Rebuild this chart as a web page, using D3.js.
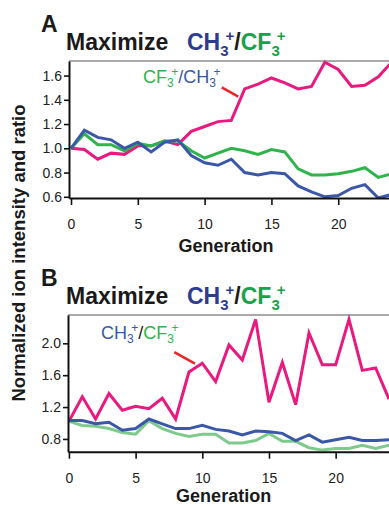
<!DOCTYPE html>
<html>
<head>
<meta charset="utf-8">
<script src="https://cdn.jsdelivr.net/npm/d3@7"></script>
<style>
body { margin: 0; background: #fff; }
svg { display: block; }
</style>
</head>
<body>
<script>
var w = 389;
var h = 505;

var generations = d3.range(0, 25);

// panel A
var ratioA = [1.00, 0.99, 0.91, 0.96, 0.95, 1.02, 1.02, 1.06, 1.03, 1.14, 1.18, 1.22, 1.23, 1.49, 1.53, 1.58, 1.54, 1.49, 1.51, 1.71, 1.65, 1.51, 1.52, 1.59, 1.71];
var cf3A   = [1.00, 1.12, 1.03, 1.03, 0.98, 1.04, 1.02, 1.06, 1.06, 0.98, 0.92, 0.96, 1.00, 0.98, 0.95, 0.99, 0.97, 0.83, 0.78, 0.78, 0.79, 0.81, 0.84, 0.76, 0.79];
var ch3A   = [1.00, 1.15, 1.09, 1.07, 1.00, 1.05, 0.97, 1.05, 1.07, 0.94, 0.88, 0.86, 0.91, 0.80, 0.78, 0.80, 0.79, 0.69, 0.64, 0.60, 0.61, 0.67, 0.70, 0.59, 0.62];

// panel B
var ratioB = [1.02, 1.33, 1.05, 1.37, 1.16, 1.21, 1.18, 1.31, 1.05, 1.64, 1.75, 1.52, 1.98, 1.79, 2.30, 1.26, 1.76, 1.23, 2.13, 1.73, 1.73, 2.30, 1.66, 1.69, 1.30];
var ch3B   = [1.03, 1.03, 0.99, 1.01, 0.91, 0.93, 1.05, 0.99, 0.93, 0.93, 0.97, 0.92, 0.90, 0.85, 0.90, 0.89, 0.87, 0.78, 0.85, 0.76, 0.79, 0.82, 0.78, 0.78, 0.79];
var cf3B   = [1.02, 0.97, 0.96, 0.93, 0.88, 0.86, 1.03, 0.93, 0.87, 0.83, 0.86, 0.86, 0.75, 0.75, 0.78, 0.87, 0.77, 0.77, 0.69, 0.66, 0.68, 0.68, 0.72, 0.68, 0.72];

var xTicks = [0, 5, 10, 15, 20];
var yTicksA = [0.6, 0.8, 1.0, 1.2, 1.4, 1.6];
var yTicksB = [0.8, 1.2, 1.6, 2.0];

var pink = "#e8197f";
var blue = "#3b57a8";
var green = "#2fb34c";
var lightGreen = "#7dca8c";
var titleBlue = "#2e3b8f";
var titleGreen = "#17a24b";
var font = "'Liberation Sans', Arial, Helvetica, sans-serif";

var svg = d3.select("body")
            .append("svg")
                .attr("width", w)
                .attr("height", h)
                .style("font-family", font);

// shared y axis title
svg.append("text")
    .attr("transform", "translate(25,253) rotate(-90)")
    .attr("text-anchor", "middle")
    .attr("font-size", 18.5)
    .attr("font-weight", "bold")
    .attr("fill", "#1a1a1a")
    .text("Normalized ion intensity and ratio");

function drawPanel(p) {
    var x = d3.scaleLinear().domain(p.xDomain).range([p.left, w]);
    var y = d3.scaleLinear().domain(p.yDomain).range([p.bottom, p.top]);

    var g = svg.append("g");

    g.append("clipPath")
        .attr("id", p.id)
        .append("rect")
            .attr("x", p.left)
            .attr("y", p.top - 1)
            .attr("width", w - p.left)
            .attr("height", p.bottom - p.top + 1);

    // top frame
    g.append("line")
        .attr("x1", p.left).attr("x2", w)
        .attr("y1", p.top).attr("y2", p.top)
        .attr("stroke", "#555")
        .attr("stroke-width", 1.2);

    var line = d3.line()
        .x(function(d, i) { return x(generations[i]); })
        .y(function(d) { return y(d); });

    var lines = g.append("g").attr("clip-path", "url(#" + p.id + ")");
    p.series.forEach(function(s) {
        lines.append("path")
            .datum(s.values)
            .attr("d", line)
            .attr("fill", "none")
            .attr("stroke", s.color)
            .attr("stroke-width", 3)
            .attr("stroke-linejoin", "miter");
    });

    var yAxis = g.append("g")
        .attr("transform", "translate(" + p.left + ",0)")
        .call(d3.axisLeft(y).tickValues(p.yTicks).tickSize(5).tickSizeOuter(0).tickPadding(2).tickFormat(d3.format(".1f")));

    var xAxis = g.append("g")
        .attr("transform", "translate(0," + p.bottom + ")")
        .call(d3.axisBottom(x).tickValues(xTicks).tickSize(7).tickSizeOuter(0).tickPadding(14));

    [yAxis, xAxis].forEach(function(a) {
        a.select(".domain").attr("stroke", "#111").attr("stroke-width", 2);
        a.selectAll(".tick line").attr("stroke", "#111").attr("stroke-width", 1.6);
        a.selectAll(".tick text")
            .attr("fill", "#222")
            .style("font-size", "14px")
            .style("font-family", font);
    });

    g.append("text")
        .attr("x", x(p.xLabelAt))
        .attr("y", p.bottom + p.xLabelGap)
        .attr("text-anchor", "middle")
        .attr("font-size", 18)
        .attr("font-weight", "bold")
        .attr("fill", "#1a1a1a")
        .text("Generation");

    // panel letter
    g.append("text")
        .attr("x", 41)
        .attr("y", p.top - 29)
        .attr("font-size", 23)
        .attr("font-weight", "bold")
        .attr("fill", "#1a1a1a")
        .text(p.letter);

    // title
    var t = g.append("text")
        .attr("x", 66)
        .attr("y", p.top - 11)
        .attr("font-size", 23)
        .attr("font-weight", "bold")
        .attr("fill", "#1a1a1a");
    t.append("tspan").text("Maximize");
    formula(t, 187, [["CH", titleBlue], ["/", "#1a1a1a"], ["CF", titleGreen]], 23, 15);

    // annotation
    var a = g.append("text")
        .attr("x", p.noteX)
        .attr("y", y(p.noteY))
        .attr("font-size", 18)
        .attr("fill", "#222");
    formula(a, null, p.noteParts, 18, 12);

    g.append("line")
        .attr("x1", x(p.arrow[0])).attr("y1", y(p.arrow[1]))
        .attr("x2", x(p.arrow[2])).attr("y2", y(p.arrow[3]))
        .attr("stroke", "#e8262a")
        .attr("stroke-width", 2.5);
}

// writes e.g. CH3+/CF3+ with sub and superscripts
function formula(t, startX, parts, size, small) {
    var back = 0;
    parts.forEach(function(part, i) {
        var first = t.append("tspan")
            .attr("fill", part[1])
            .attr("font-size", size)
            .attr("dy", back)
            .text(part[0]);
        back = 0;
        if (i == 0 && startX != null) first.attr("x", startX);
        if (part[0] == "/") return;
        t.append("tspan")
            .attr("fill", part[1])
            .attr("font-size", small)
            .attr("dy", size * 0.24)
            .text("3");
        t.append("tspan")
            .attr("fill", part[1])
            .attr("font-size", small)
            .attr("dx", -small * 0.2)
            .attr("dy", -size * 0.62)
            .text("+");
        back = size * 0.38;
    });
}

drawPanel({
    id: "clipA",
    letter: "A",
    left: 69, top: 61, bottom: 198,
    xDomain: [-0.15, 23.8],
    yDomain: [0.59, 1.72],
    yTicks: yTicksA,
    xLabelAt: 11.6,
    xLabelGap: 54,
    series: [
        {values: ratioA, color: pink},
        {values: cf3A, color: green},
        {values: ch3A, color: blue}
    ],
    noteX: 143, noteY: 1.54,
    noteParts: [["CF", green], ["/", blue], ["CH", blue]],
    arrow: [11.28, 1.503, 12.52, 1.426]
});

drawPanel({
    id: "clipB",
    letter: "B",
    left: 68, top: 315, bottom: 451.7,
    xDomain: [-0.07, 24],
    yDomain: [0.64, 2.355],
    yTicks: yTicksB,
    xLabelAt: 11.6,
    xLabelGap: 50,
    series: [
        {values: ratioB, color: pink},
        {values: cf3B, color: lightGreen},
        {values: ch3B, color: blue}
    ],
    noteX: 101, noteY: 2.06,
    noteParts: [["CH", blue], ["/", "#222"], ["CF", green]],
    arrow: [7.9, 1.89, 9.45, 1.745]
});
</script>
</body>
</html>
